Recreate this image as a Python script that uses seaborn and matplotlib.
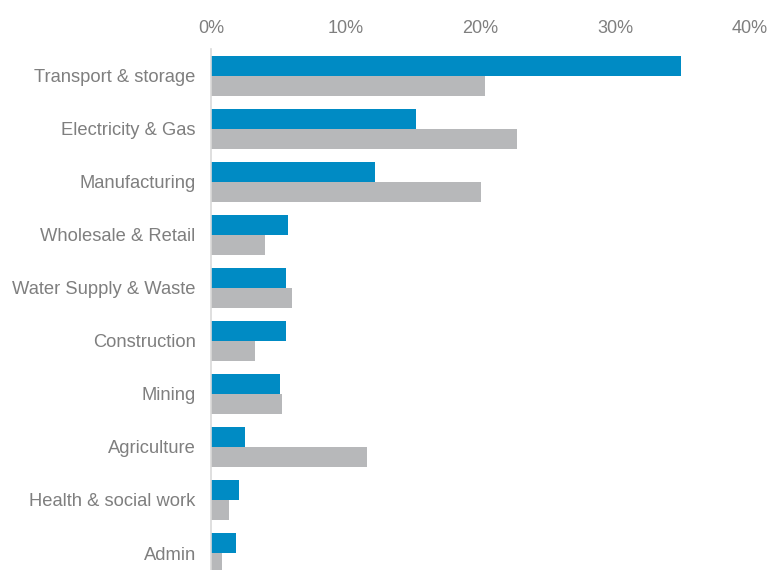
import pandas as pd
import seaborn as sns
import matplotlib.pyplot as plt
from matplotlib.ticker import PercentFormatter

# ==== Data ====
sectors = ["Transport & storage", "Electricity & Gas", "Manufacturing",
           "Wholesale & Retail", "Water Supply & Waste", "Construction",
           "Mining", "Agriculture", "Health & social work", "Admin"]
series_1 = [34.9, 15.2, 12.2, 5.7, 5.6, 5.6, 5.1, 2.5, 2.1, 1.85]
series_2 = [20.3, 22.7, 20.0, 4.0, 6.0, 3.3, 5.3, 11.6, 1.3, 0.8]
series_names = ["Series 1", "Series 2"]
colors = ["#008BC4", "#B7B8BA"]

df = pd.DataFrame({
    "sector": sectors * 2,
    "value": series_1 + series_2,
    "series": [series_names[0]] * len(sectors) + [series_names[1]] * len(sectors),
})

# ==== Plot ====
sns.set_style("white")
plt.rcParams["font.family"] = ["Liberation Sans", "DejaVu Sans"]
text_color = "#7F7F7F"

fig = plt.figure(figsize=(7.7, 5.7), dpi=100)
ax = fig.add_axes([211 / 770, -9.5 / 570, 539 / 770, 530 / 570])

sns.barplot(data=df, y="sector", x="value", hue="series", order=sectors,
            hue_order=series_names, palette=colors, width=0.755,
            saturation=1, legend=False, linewidth=0, ax=ax)

ax.set_xlim(0, 40)
ax.set_xticks([0, 10, 20, 30, 40])
ax.xaxis.set_major_formatter(PercentFormatter(decimals=0))
ax.xaxis.tick_top()
ax.tick_params(axis="x", length=0, pad=9, labelsize=13, labelcolor=text_color)
ax.tick_params(axis="y", length=0, pad=11, labelsize=13.2, labelcolor=text_color)
ax.set_xlabel("")
ax.set_ylabel("")

for side in ["top", "right", "bottom"]:
    ax.spines[side].set_visible(False)
ax.spines["left"].set_color("#D9D9D9")
ax.spines["left"].set_linewidth(1.2)

fig.savefig("out.png", dpi=100)
